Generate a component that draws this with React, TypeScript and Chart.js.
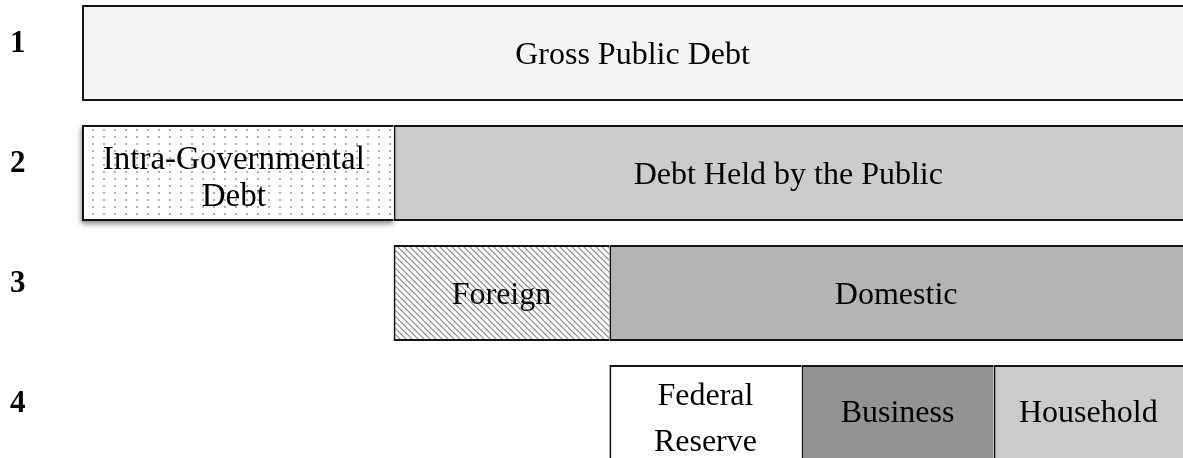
import React, { useEffect, useRef } from 'react';
import { Chart, registerables } from 'chart.js';

Chart.register(...registerables);

// ---- data (shares of gross public debt, in percent of the drawn width) ----
const rows = ['1', '2', '3', '4'];
const grossPublicDebt = 100;
const intraGovernmentalDebt = 28.3;
const foreignHoldings = 19.6;
const federalReserveHoldings = 17.45;
const businessHoldings = 17.45;
const householdHoldings = 17.2;

const debtHeldByPublic = grossPublicDebt - intraGovernmentalDebt;
const domesticHoldings = debtHeldByPublic - foreignHoldings;

const segmentNames = [
  'Gross Public Debt',
  'Intra-Governmental Debt',
  'Debt Held by the Public',
  'Foreign',
  'Domestic',
  'Federal Reserve',
  'Business',
  'Household',
];
const segmentLines = [
  ['Gross Public Debt'],
  ['Intra-Governmental', 'Debt'],
  ['Debt Held by the Public'],
  ['Foreign'],
  ['Domestic'],
  ['Federal', 'Reserve'],
  ['Business'],
  ['Household'],
];
const segmentRows = [0, 1, 1, 2, 2, 3, 3, 3];
const segmentStarts = [
  0,
  0,
  intraGovernmentalDebt,
  intraGovernmentalDebt,
  intraGovernmentalDebt + foreignHoldings,
  intraGovernmentalDebt + foreignHoldings,
  intraGovernmentalDebt + foreignHoldings + federalReserveHoldings,
  intraGovernmentalDebt + foreignHoldings + federalReserveHoldings + businessHoldings,
];
const segmentEnds = [
  grossPublicDebt,
  intraGovernmentalDebt,
  intraGovernmentalDebt + debtHeldByPublic,
  intraGovernmentalDebt + foreignHoldings,
  intraGovernmentalDebt + foreignHoldings + domesticHoldings,
  intraGovernmentalDebt + foreignHoldings + federalReserveHoldings,
  intraGovernmentalDebt + foreignHoldings + federalReserveHoldings + businessHoldings,
  intraGovernmentalDebt + foreignHoldings + federalReserveHoldings + businessHoldings + householdHoldings,
];

// ---- styles ----
const FONT = '"Liberation Serif", "Times New Roman", Times, serif';
const segmentFills = ['#f4f4f4', 'DOTS', '#cccccc', 'HATCH', '#b4b4b4', '#ffffff', '#939393', '#cbcbcb'];
const segmentLineOffsets = [[3], [-13, 24], [3], [3], [3], [-16, 30], [1], [1]];
const segmentTextShiftX = [0, -4, 0, 0, 0, 0, 0, 0];
const segmentFontSize = [32, 33, 32, 32, 32, 32, 32, 32];
const CANVAS_W = 1183;
const CANVAS_H = 480;

function makeDots(): CanvasPattern | string {
  const c = document.createElement('canvas');
  c.width = 11;
  c.height = 7;
  const g = c.getContext('2d');
  if (!g) return '#ffffff';
  g.fillStyle = '#ffffff';
  g.fillRect(0, 0, 11, 7);
  g.fillStyle = '#b0b0b0';
  g.fillRect(4, 3, 2, 2);
  return g.createPattern(c, 'repeat') || '#ffffff';
}

function makeHatch(): CanvasPattern | string {
  const s = 6;
  const c = document.createElement('canvas');
  c.width = s;
  c.height = s;
  const g = c.getContext('2d');
  if (!g) return '#ffffff';
  g.fillStyle = '#ffffff';
  g.fillRect(0, 0, s, s);
  g.strokeStyle = '#8c8c8c';
  g.lineWidth = 1.2;
  g.beginPath();
  g.moveTo(-1, -1);
  g.lineTo(s + 1, s + 1);
  g.moveTo(-1, s - 1);
  g.lineTo(1, s + 1);
  g.moveTo(s - 1, -1);
  g.lineTo(s + 1, 1);
  g.stroke();
  return g.createPattern(c, 'repeat') || '#ffffff';
}

const shadowPlugin = {
  id: 'segmentShadow',
  beforeDatasetDraw(chart: any, args: any) {
    if (args.index !== 1) return;
    const meta = chart.getDatasetMeta(1);
    const ctx = chart.ctx;
    meta.data.forEach((el: any, i: number) => {
      if (chart.data.datasets[1].data[i] == null) return;
      const { x, y, base, height } = el.getProps(['x', 'y', 'base', 'height'], true);
      ctx.save();
      ctx.shadowColor = 'rgba(0,0,0,0.45)';
      ctx.shadowBlur = 5;
      ctx.shadowOffsetX = -1;
      ctx.shadowOffsetY = 3;
      ctx.fillStyle = '#ffffff';
      ctx.fillRect(Math.min(x, base), y - height / 2, Math.abs(x - base), height);
      ctx.restore();
    });
  },
};

const labelPlugin = {
  id: 'segmentLabels',
  afterDatasetsDraw(chart: any) {
    const ctx = chart.ctx;
    ctx.save();
    ctx.fillStyle = '#000000';
    ctx.textAlign = 'center';
    ctx.textBaseline = 'middle';
    chart.data.datasets.forEach((ds: any, di: number) => {
      const meta = chart.getDatasetMeta(di);
      ctx.font = `${segmentFontSize[di]}px ${FONT}`;
      meta.data.forEach((el: any, i: number) => {
        if (ds.data[i] == null) return;
        const { x, y, base } = el.getProps(['x', 'y', 'base'], true);
        const cx = (x + base) / 2 + segmentTextShiftX[di];
        const lines = segmentLines[di];
        const offs = segmentLineOffsets[di];
        lines.forEach((t, li) => {
          ctx.fillText(t, cx, y + offs[li]);
        });
      });
    });
    ctx.restore();
  },
};

export default function App() {
  const canvasRef = useRef<HTMLCanvasElement | null>(null);

  useEffect(() => {
    const canvas = canvasRef.current;
    if (!canvas) return;
    const dots = makeDots();
    const hatch = makeHatch();
    const fills = segmentFills.map((f) => (f === 'DOTS' ? dots : f === 'HATCH' ? hatch : f));
    const lastEnd = Math.max(...segmentEnds);

    const datasets = segmentNames.map((name, si) => {
      const atRight = segmentEnds[si] >= lastEnd - 1e-9;
      const rightNeighbour = segmentStarts.some(
        (s, k) => k !== si && segmentRows[k] === segmentRows[si] && Math.abs(s - segmentEnds[si]) < 1e-9
      );
      return {
        label: name,
        data: rows.map((_, ri) => (ri === segmentRows[si] ? [segmentStarts[si], segmentEnds[si]] : null)),
        backgroundColor: fills[si],
        borderColor: '#141414',
        borderWidth: {
          top: 2,
          bottom: 2,
          left: 2,
          right: atRight || rightNeighbour ? 0 : 2,
        },
        borderSkipped: false,
        grouped: false,
        categoryPercentage: 0.8,
        barPercentage: 1,
      };
    });

    const chart = new Chart(canvas, {
      type: 'bar',
      data: { labels: rows, datasets: datasets as any },
      options: {
        indexAxis: 'y',
        responsive: false,
        maintainAspectRatio: false,
        animation: false,
        devicePixelRatio: 1,
        layout: { padding: { left: 10, right: 0, top: 0, bottom: 0 } },
        plugins: {
          legend: { display: false },
          tooltip: { enabled: false },
        },
        scales: {
          x: { type: 'linear', min: 0, max: grossPublicDebt, display: false },
          y: {
            type: 'category',
            offset: true,
            grid: { display: false, drawTicks: false },
            border: { display: false },
            ticks: {
              color: '#000000',
              font: { family: FONT, size: 31, weight: 'bold', lineHeight: 0 },
              padding: 0,
              crossAlign: 'far',
              labelOffset: -9,
            },
            afterFit: (scale: any) => {
              scale.width = 72;
            },
          },
        },
      } as any,
      plugins: [shadowPlugin, labelPlugin],
    });
    return () => chart.destroy();
  }, []);

  return (
    <div style={{ position: 'fixed', left: 0, top: 0, width: CANVAS_W, height: 458, overflow: 'hidden', background: '#ffffff' }}>
      <canvas
        ref={canvasRef}
        width={CANVAS_W}
        height={CANVAS_H}
        style={{ position: 'absolute', left: 0, top: -7, width: CANVAS_W, height: CANVAS_H, display: 'block' }}
      />
    </div>
  );
}
